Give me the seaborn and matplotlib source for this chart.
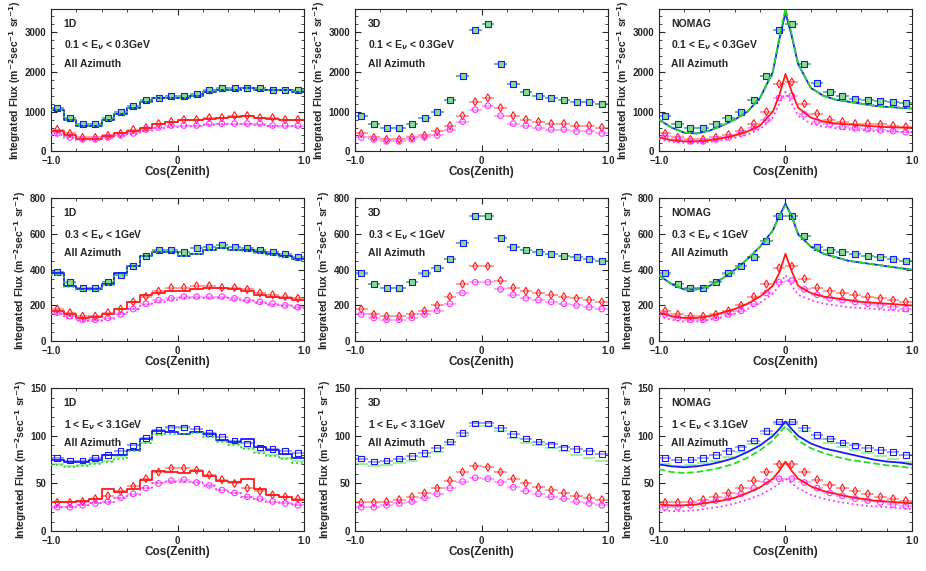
import seaborn as sns
import matplotlib.pyplot as plt
import numpy as np
import pandas as pd

# bin centres in cos(zenith)
cos_bins = [-0.95, -0.85, -0.75, -0.65, -0.55, -0.45, -0.35, -0.25, -0.15, -0.05,
            0.05, 0.15, 0.25, 0.35, 0.45, 0.55, 0.65, 0.75, 0.85, 0.95]
bin_edges = [-1.0, -0.9, -0.8, -0.7, -0.6, -0.5, -0.4, -0.3, -0.2, -0.1, 0.0,
             0.1, 0.2, 0.3, 0.4, 0.5, 0.6, 0.7, 0.8, 0.9, 1.0]
curve_x = [-1.0, -0.9, -0.8, -0.7, -0.6, -0.5, -0.4, -0.3, -0.2, -0.1, -0.05, 0.0,
           0.05, 0.1, 0.2, 0.3, 0.4, 0.5, 0.6, 0.7, 0.8, 0.9, 1.0]

energy_labels = ["0.1 < E$_\\nu$ < 0.3GeV", "0.3 < E$_\\nu$ < 1GeV", "1 < E$_\\nu$ < 3.1GeV"]
model_labels = ["1D", "3D", "NOMAG"]
y_max = [3600, 800, 150]
y_ticks = [[0, 1000, 2000, 3000], [0, 200, 400, 600, 800], [0, 50, 100, 150]]

# ---- points: [row][model] -> (blue, green, red, magenta)
pts = {
    (0, 0): ([1100, 850, 700, 700, 850, 1000, 1150, 1300, 1350, 1400, 1400, 1450, 1550, 1600, 1600, 1600, 1600, 1550, 1550, 1550],
             [1080, 840, 690, 700, 840, 990, 1140, 1300, 1350, 1400, 1400, 1450, 1550, 1600, 1600, 1600, 1590, 1550, 1540, 1540],
             [550, 450, 350, 350, 400, 450, 550, 600, 700, 750, 800, 800, 850, 850, 900, 900, 850, 850, 800, 800],
             [450, 350, 300, 300, 350, 400, 450, 550, 600, 650, 650, 650, 700, 700, 700, 700, 700, 650, 650, 650]),
    (0, 1): ([900, 700, 600, 600, 700, 850, 1000, 1300, 1900, 3050, 3200, 2200, 1700, 1500, 1400, 1350, 1300, 1250, 1250, 1200],
             [890, 700, 590, 600, 700, 840, 1000, 1300, 1900, 3050, 3200, 2200, 1700, 1500, 1400, 1350, 1300, 1250, 1240, 1200],
             [450, 350, 300, 300, 350, 400, 500, 650, 900, 1250, 1350, 1100, 900, 800, 750, 700, 700, 650, 650, 600],
             [350, 300, 250, 250, 300, 350, 400, 550, 750, 1050, 1150, 900, 700, 650, 600, 550, 550, 500, 500, 450]),
    (0, 2): ([900, 700, 580, 580, 700, 830, 1000, 1300, 1900, 3050, 3200, 2200, 1720, 1500, 1400, 1330, 1300, 1260, 1250, 1230],
             [890, 700, 580, 580, 700, 830, 1000, 1300, 1900, 3050, 3200, 2200, 1720, 1500, 1400, 1330, 1300, 1260, 1250, 1230],
             [450, 350, 300, 300, 350, 420, 520, 700, 1000, 1700, 1750, 1200, 950, 800, 750, 700, 700, 680, 650, 620],
             [380, 300, 250, 250, 300, 350, 450, 600, 800, 1350, 1400, 930, 750, 680, 620, 580, 560, 530, 510, 480]),
    (1, 0): ([390, 330, 300, 300, 330, 370, 420, 480, 510, 510, 500, 520, 530, 540, 530, 520, 510, 500, 490, 470],
             [385, 325, 300, 300, 330, 370, 420, 480, 510, 510, 500, 520, 530, 540, 530, 520, 510, 500, 485, 465],
             [180, 160, 140, 140, 160, 180, 220, 250, 280, 300, 300, 310, 310, 300, 300, 290, 270, 260, 250, 240],
             [160, 140, 120, 120, 130, 150, 180, 210, 230, 240, 250, 250, 250, 250, 240, 230, 220, 210, 200, 190]),
    (1, 1): ([380, 320, 300, 300, 330, 380, 410, 460, 550, 700, 700, 580, 530, 510, 500, 490, 480, 470, 460, 450],
             [375, 320, 300, 300, 330, 375, 410, 460, 550, 700, 700, 580, 530, 510, 500, 490, 480, 470, 460, 450],
             [180, 150, 140, 140, 150, 170, 200, 250, 320, 420, 420, 340, 300, 280, 270, 260, 250, 240, 230, 220],
             [150, 130, 120, 120, 130, 150, 170, 210, 270, 330, 330, 290, 260, 240, 230, 220, 210, 200, 190, 180]),
    (1, 2): ([380, 320, 300, 300, 330, 380, 420, 470, 560, 700, 700, 590, 530, 510, 500, 490, 480, 470, 460, 450],
             [375, 320, 300, 300, 330, 375, 420, 470, 560, 700, 700, 590, 530, 510, 500, 490, 480, 470, 460, 450],
             [170, 150, 140, 140, 150, 170, 200, 250, 320, 410, 420, 350, 300, 280, 270, 260, 250, 240, 230, 220],
             [150, 130, 120, 120, 130, 150, 170, 210, 270, 330, 340, 290, 260, 240, 230, 220, 210, 200, 190, 180]),
    (2, 0): ([77, 74, 74, 77, 80, 84, 90, 98, 106, 109, 109, 107, 103, 99, 95, 92, 88, 86, 84, 82],
             [70, 68, 69, 71, 74, 78, 85, 93, 102, 108, 108, 104, 100, 95, 91, 87, 83, 80, 77, 74],
             [30, 30, 31, 34, 37, 42, 47, 55, 62, 66, 66, 64, 59, 54, 50, 45, 42, 38, 36, 34],
             [25, 25, 27, 29, 31, 35, 39, 45, 50, 53, 54, 51, 48, 43, 40, 36, 34, 31, 29, 27]),
    (2, 1): ([76, 73, 74, 76, 79, 82, 87, 94, 103, 113, 113, 108, 102, 97, 94, 91, 88, 86, 84, 81],
             [70, 68, 69, 71, 74, 78, 83, 90, 100, 110, 110, 105, 98, 93, 90, 87, 84, 80, 77, 74],
             [30, 30, 31, 33, 36, 40, 45, 53, 62, 68, 67, 62, 55, 50, 46, 43, 40, 37, 35, 33],
             [25, 25, 27, 29, 31, 35, 39, 45, 52, 56, 55, 51, 46, 42, 39, 36, 34, 31, 29, 27]),
    (2, 2): ([77, 75, 75, 77, 80, 84, 88, 95, 105, 115, 115, 108, 101, 97, 93, 90, 87, 85, 83, 80],
             [70, 68, 69, 71, 74, 78, 83, 91, 102, 112, 112, 105, 97, 92, 88, 85, 82, 79, 76, 73],
             [30, 30, 31, 33, 36, 40, 45, 53, 62, 70, 70, 62, 54, 48, 45, 42, 39, 36, 34, 32],
             [25, 25, 27, 29, 32, 35, 39, 45, 52, 55, 55, 51, 45, 40, 37, 34, 32, 30, 28, 26]),
}

# ---- 1D histogram lines (blue, green, red, magenta), one value per bin
hist_1d = {
    0: ([1050, 800, 650, 650, 800, 950, 1100, 1250, 1350, 1350, 1350, 1400, 1500, 1550, 1550, 1600, 1550, 1550, 1550, 1500],
        [1030, 790, 640, 640, 790, 940, 1090, 1240, 1340, 1340, 1340, 1400, 1500, 1550, 1550, 1590, 1550, 1550, 1540, 1500],
        [500, 400, 300, 320, 380, 450, 520, 600, 700, 750, 780, 800, 820, 850, 870, 880, 850, 820, 800, 780],
        [420, 330, 280, 290, 330, 380, 430, 520, 580, 620, 640, 650, 660, 680, 680, 680, 670, 650, 630, 620]),
    1: ([380, 310, 290, 290, 320, 380, 420, 480, 500, 500, 480, 490, 510, 520, 510, 510, 500, 490, 480, 460],
        [370, 305, 285, 285, 315, 370, 420, 480, 500, 500, 480, 490, 510, 520, 510, 505, 495, 485, 470, 455],
        [170, 150, 130, 135, 150, 180, 220, 260, 270, 280, 280, 290, 300, 300, 290, 280, 260, 250, 240, 230],
        [150, 130, 115, 115, 125, 150, 180, 200, 220, 230, 240, 240, 240, 240, 230, 225, 215, 205, 195, 185]),
    2: ([75, 73, 73, 75, 80, 80, 85, 97, 105, 104, 102, 104, 102, 96, 94, 97, 88, 85, 81, 77],
        [69, 67, 68, 70, 73, 76, 84, 92, 101, 102, 102, 103, 99, 94, 90, 86, 82, 79, 76, 72],
        [30, 30, 32, 34, 44, 41, 44, 54, 63, 62, 61, 63, 58, 53, 51, 55, 44, 38, 36, 33],
        [25, 25, 27, 29, 31, 35, 38, 45, 50, 52, 52, 50, 47, 43, 40, 36, 33, 31, 29, 27]),
}

# ---- NOMAG smooth curves (blue, green, red, magenta) at curve_x
curves_nomag = {
    0: ([800, 600, 470, 450, 520, 650, 800, 1000, 1350, 2000, 2800, 3500, 2900, 2200, 1600, 1400, 1300, 1250, 1200, 1150, 1120, 1100, 1080],
        [800, 600, 470, 450, 520, 650, 800, 1000, 1350, 2000, 2850, 3600, 2950, 2200, 1600, 1400, 1300, 1250, 1200, 1150, 1120, 1100, 1080],
        [350, 280, 250, 250, 280, 330, 400, 500, 650, 1000, 1400, 1950, 1500, 1100, 850, 750, 700, 680, 650, 630, 610, 600, 590],
        [300, 240, 210, 210, 240, 280, 340, 420, 560, 850, 1200, 1500, 1200, 900, 700, 620, 580, 550, 530, 510, 500, 490, 480]),
    1: ([370, 320, 290, 290, 310, 350, 400, 460, 530, 620, 700, 770, 700, 600, 530, 490, 470, 450, 440, 430, 420, 410, 400],
        [370, 320, 290, 290, 310, 350, 400, 460, 530, 620, 700, 760, 700, 600, 530, 490, 470, 450, 440, 430, 420, 410, 400],
        [160, 140, 130, 130, 140, 160, 180, 210, 250, 310, 380, 490, 390, 310, 270, 250, 240, 230, 220, 215, 210, 205, 200],
        [140, 120, 110, 110, 120, 135, 155, 180, 215, 265, 310, 370, 310, 260, 230, 210, 200, 190, 185, 180, 175, 170, 165]),
    2: ([70, 68, 67, 68, 70, 73, 77, 83, 90, 100, 107, 115, 107, 100, 92, 87, 84, 81, 78, 75, 73, 72, 70],
        [65, 62, 61, 62, 64, 67, 71, 77, 85, 95, 103, 110, 103, 95, 87, 82, 78, 75, 73, 71, 69, 68, 66],
        [28, 27, 27, 28, 30, 32, 35, 40, 46, 55, 63, 73, 63, 55, 47, 42, 39, 36, 34, 32, 31, 30, 29],
        [22, 21, 21, 22, 24, 26, 29, 33, 38, 45, 50, 55, 50, 45, 38, 34, 31, 29, 27, 26, 25, 24, 23]),
}

colors = ["#1a1aff", "#22dd22", "#ff1a1a", "#ff33ff"]
markers = ["s", "x", "d", "o"]
line_styles = ["-", ":", "-", ":"]

sns.set_style("ticks")
plt.rcParams["font.family"] = ["Liberation Sans", "DejaVu Sans"]
plt.rcParams["font.weight"] = "bold"
plt.rcParams["axes.labelweight"] = "bold"

fig, axes = plt.subplots(3, 3, figsize=(9.26, 5.71), dpi=100)
fig.subplots_adjust(left=0.055, right=0.985, top=0.985, bottom=0.07, wspace=0.2, hspace=0.33)

for r in range(3):
    for m in range(3):
        ax = axes[r, m]
        series = pts[(r, m)]
        for i in range(4):
            # horizontal bin-width bars
            ax.errorbar(cos_bins, series[i], xerr=0.05, fmt="none", ecolor=colors[i],
                        alpha=0.5, lw=1.2, zorder=2)
            fc = "#88dd88" if (i == 0 and r < 2) else "none"
            sns.scatterplot(x=cos_bins, y=series[i], ax=ax, marker=markers[i], s=16,
                            facecolor=fc, edgecolor=colors[i], color=colors[i],
                            linewidth=0.8, zorder=3 if i != 1 else 5, legend=False)
        if m == 0:
            for i in range(4):
                vals = hist_1d[r][i]
                ax.step(bin_edges, list(vals) + [vals[-1]], where="post", color=colors[i],
                        ls=line_styles[i], lw=1.3, zorder=4)
        elif m == 2:
            for i in range(4):
                df = pd.DataFrame({"x": curve_x, "y": curves_nomag[r][i]})
                sns.lineplot(data=df, x="x", y="y", ax=ax, color=colors[i],
                             ls=line_styles[i] if i != 1 else "--", lw=1.3, zorder=4)
        ax.set_xlim(-1, 1)
        ax.set_ylim(0, y_max[r])
        ax.set_xticks([-1, 0, 1])
        ax.set_xticklabels(["\u22121.0", "0", "1.0"])
        ax.set_yticks(y_ticks[r])
        ax.minorticks_on()
        ax.tick_params(which="both", direction="in", top=True, right=True, labelsize=7)
        ax.tick_params(which="major", length=4)
        ax.tick_params(which="minor", length=2)
        ax.set_xlabel("Cos(Zenith)", fontsize=8.5, labelpad=0)
        ax.set_ylabel("Integrated Flux (m$^{-2}$sec$^{-1}$ sr$^{-1}$)", fontsize=7.5, labelpad=1)
        ax.text(0.05, 0.93, model_labels[m], transform=ax.transAxes, fontsize=7.5, fontweight="bold", va="top")
        ax.text(0.05, 0.79, energy_labels[r], transform=ax.transAxes, fontsize=7.5, fontweight="bold", va="top")
        ax.text(0.05, 0.65, "All Azimuth", transform=ax.transAxes, fontsize=7.5, fontweight="bold", va="top")

fig.savefig("out.png", dpi=100)
